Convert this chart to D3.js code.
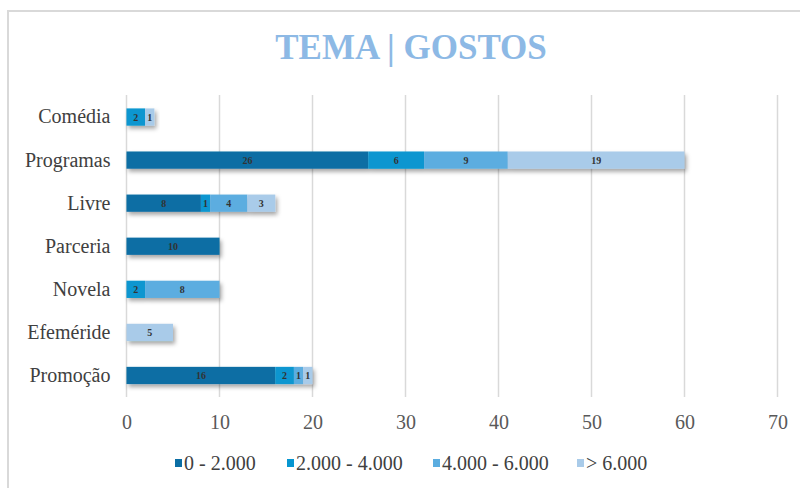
<!DOCTYPE html>
<html>
<head>
<meta charset="utf-8">
<script src="https://cdnjs.cloudflare.com/ajax/libs/d3/7.8.5/d3.min.js"></script>
<style>
  body { margin: 0; background: #fff; }
  svg { display: block; }
  text { font-family: "Liberation Serif", "Times New Roman", serif; fill: #404040; }
</style>
</head>
<body>
<div id="chart"></div>
<script>
// data
var categories = ["Comédia", "Programas", "Livre", "Parceria", "Novela", "Efeméride", "Promoção"];
var seriesNames = ["0 - 2.000", "2.000 - 4.000", "4.000 - 6.000", "> 6.000"];
var s0 = [0, 26, 8, 10, 0, 0, 16];
var s1 = [2, 6, 1, 0, 2, 0, 2];
var s2 = [0, 9, 4, 0, 8, 0, 1];
var s3 = [1, 19, 3, 0, 0, 5, 1];
var xTicks = [0, 10, 20, 30, 40, 50, 60, 70];

var colors = ["#0b6ea4", "#0796d0", "#5badE0", "#a9cbe9"];

var svgWidth = 800;
var svgHeight = 488;

var svg = d3.select("#chart")
  .append("svg")
  .attr("width", svgWidth)
  .attr("height", svgHeight);

// drop shadow for bars
var defs = svg.append("defs");
var filter = defs.append("filter")
  .attr("id", "shadow")
  .attr("x", "-10%").attr("y", "-30%")
  .attr("width", "130%").attr("height", "190%");
filter.append("feDropShadow")
  .attr("dx", 2).attr("dy", 3)
  .attr("stdDeviation", 2)
  .attr("flood-color", "#000")
  .attr("flood-opacity", 0.35);

// outer frame of the chart area
svg.append("rect")
  .attr("x", 8).attr("y", 11)
  .attr("width", 820).attr("height", 500)
  .attr("fill", "none")
  .attr("stroke", "#d9d9d9")
  .attr("stroke-width", 2);

// title
svg.append("text")
  .attr("x", 411)
  .attr("y", 59)
  .attr("text-anchor", "middle")
  .style("font-size", "35px")
  .style("font-weight", "bold")
  .style("fill", "#8db9e5")
  .text("TEMA | GOSTOS");

var x = d3.scaleLinear().domain([0, 70]).range([126.5, 777.5]);
var y = d3.scaleBand().domain(categories).range([95.5, 397]).paddingInner(0.6).paddingOuter(0.3);

// gridlines
svg.append("g")
  .selectAll("line")
  .data(xTicks)
  .enter()
  .append("line")
  .attr("x1", d => x(d)).attr("x2", d => x(d))
  .attr("y1", 95).attr("y2", 397)
  .attr("stroke", "#d9d9d9")
  .attr("stroke-width", 1.5);

// x axis labels
var xAxis = svg.append("g")
  .attr("transform", "translate(0, 397)")
  .call(d3.axisBottom(x).tickValues(xTicks).tickSize(0).tickPadding(18));
xAxis.select(".domain").remove();
xAxis.selectAll("text")
  .style("font-family", "'Liberation Serif', serif")
  .style("font-size", "20px")
  .style("fill", "#595959");

// y axis labels
var yAxis = svg.append("g")
  .attr("transform", "translate(" + x(0) + ", 0)")
  .call(d3.axisLeft(y).tickSize(0).tickPadding(16));
yAxis.select(".domain").remove();
yAxis.selectAll("text")
  .style("font-family", "'Liberation Serif', serif")
  .style("font-size", "20px")
  .style("fill", "#404040");

// stack the series
var rows = categories.map(function(c, i) {
  return { cat: c, a: s0[i], b: s1[i], c: s2[i], d: s3[i] };
});
var stacked = d3.stack().keys(["a", "b", "c", "d"])(rows);

var bars = svg.append("g");
categories.forEach(function(cat, i) {
  var g = bars.append("g").attr("filter", "url(#shadow)");
  stacked.forEach(function(layer, k) {
    var seg = layer[i];
    if (seg[1] - seg[0] <= 0) return;
    g.append("rect")
      .attr("x", x(seg[0]))
      .attr("y", y(cat))
      .attr("width", x(seg[1]) - x(seg[0]))
      .attr("height", y.bandwidth())
      .attr("fill", colors[k]);
  });
});

// value labels
stacked.forEach(function(layer, k) {
  layer.forEach(function(seg, i) {
    var v = seg[1] - seg[0];
    if (v <= 0) return;
    svg.append("text")
      .attr("x", (x(seg[0]) + x(seg[1])) / 2)
      .attr("y", y(categories[i]) + y.bandwidth() / 2)
      .attr("dy", "0.35em")
      .attr("text-anchor", "middle")
      .style("font-size", "10px")
      .style("font-weight", "bold")
      .style("fill", "#333")
      .text(v);
  });
});

// legend
var legendX = [175, 287, 433, 577];
var legend = svg.append("g");
seriesNames.forEach(function(name, k) {
  legend.append("rect")
    .attr("x", legendX[k])
    .attr("y", 459)
    .attr("width", 7)
    .attr("height", 8)
    .attr("fill", colors[k]);
  legend.append("text")
    .attr("x", legendX[k] + 9)
    .attr("y", 470)
    .style("font-size", "20px")
    .style("fill", "#404040")
    .text(name);
});
</script>
</body>
</html>
